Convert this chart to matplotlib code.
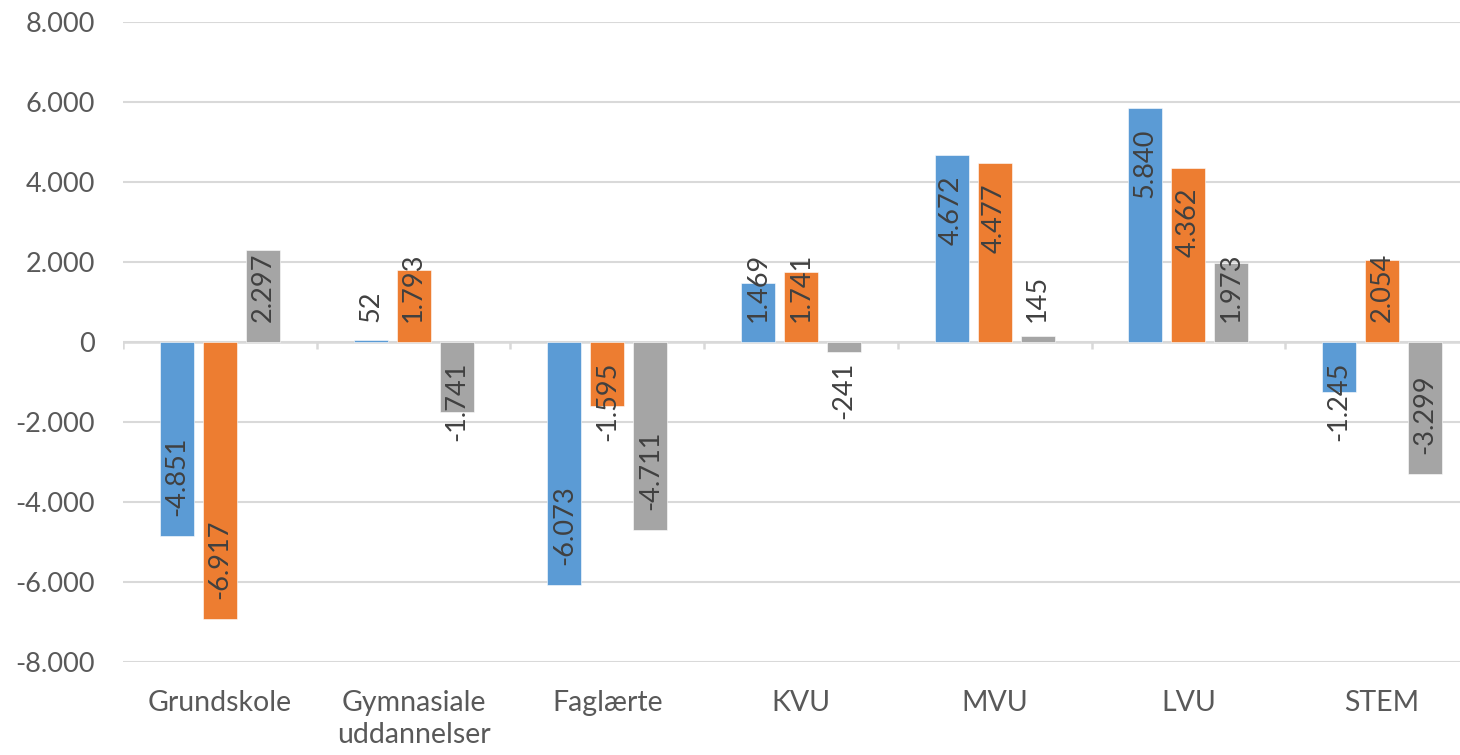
import matplotlib
matplotlib.use("Agg")
import matplotlib.pyplot as plt
from matplotlib.ticker import FuncFormatter
import numpy as np

categories = ["Grundskole", "Gymnasiale\nuddannelser", "Faglærte", "KVU", "MVU", "LVU", "STEM"]
series_a = [-4851, 52, -6073, 1469, 4672, 5840, -1245]
series_b = [-6917, 1793, -1595, 1741, 4477, 4362, 2054]
series_c = [2297, -1741, -4711, -241, 145, 1973, -3299]
colors = ["#5B9BD5", "#ED7D31", "#A5A5A5"]

plt.rcParams['font.family'] = ['Lato', 'DejaVu Sans']

W, H = 1460, 755
fig = plt.figure(figsize=(W / 100, H / 100), dpi=100)
left, right, top, bottom = 123, 1479, 22, 662
ax = fig.add_axes([left / W, (H - bottom) / H, (right - left) / W, (bottom - top) / H])

n = len(categories)
x = np.arange(n)
bw = 0.1755
step = 0.222
all_series = [series_a, series_b, series_c]

ax.set_xlim(-0.5, n - 0.5)
ax.set_ylim(-8000, 8000)
ax.set_yticks(np.arange(-8000, 8001, 2000))
fmt = lambda v, p: f"{int(v):,}".replace(",", ".")
ax.yaxis.set_major_formatter(FuncFormatter(fmt))
ax.grid(axis='y', color='#D9D9D9', linewidth=1.5, zorder=0)
ax.set_axisbelow(True)
for s in ax.spines.values():
    s.set_visible(False)
ax.tick_params(axis='y', length=0, pad=20, labelsize=19.5, labelcolor='#595959')
ax.set_xticks(x)
ax.set_xticklabels(categories)
ax.tick_params(axis='x', length=0, pad=20, labelsize=20.5, labelcolor='#595959')
for lab in ax.get_xticklabels():
    lab.set_linespacing(1.3)

# zero axis line and boundary tick marks
ax.axhline(0, color='#D9D9D9', linewidth=1.8, zorder=1)
ax.vlines(np.arange(n + 1) - 0.5, -180, 0, color='#D9D9D9', linewidth=1.8, zorder=1)

bars_all = []
for i, (vals, c) in enumerate(zip(all_series, colors)):
    bars = ax.bar(x + (i - 1) * step, vals, width=bw, color=c, zorder=2,
                  edgecolor='white', linewidth=0.4)
    bars_all.append((bars, vals))

pad = 500
texts = []
for bars, vals in bars_all:
    for b, v in zip(bars, vals):
        cx = b.get_x() + b.get_width() / 2
        lab = fmt(v, None)
        if v >= 0:
            t = ax.text(cx, v - pad, lab, rotation=90, ha='center', va='top',
                        fontsize=19.5, color='#404040', zorder=3)
        else:
            t = ax.text(cx, v + pad, lab, rotation=90, ha='center', va='bottom',
                        fontsize=19.5, color='#404040', zorder=3)
        texts.append((t, v))

fig.canvas.draw()
r = fig.canvas.get_renderer()
inv = ax.transData.inverted()
for t, v in texts:
    bb = t.get_window_extent(r)
    (x0, y0), (x1, y1) = inv.transform([[bb.x0, bb.y0], [bb.x1, bb.y1]])
    if v >= 0 and y0 < pad:
        t.set_va('bottom'); t.set_y(pad)
    if v < 0 and y1 > -pad:
        t.set_va('top'); t.set_y(-pad)

fig.savefig("out.png", dpi=100, facecolor='white')
